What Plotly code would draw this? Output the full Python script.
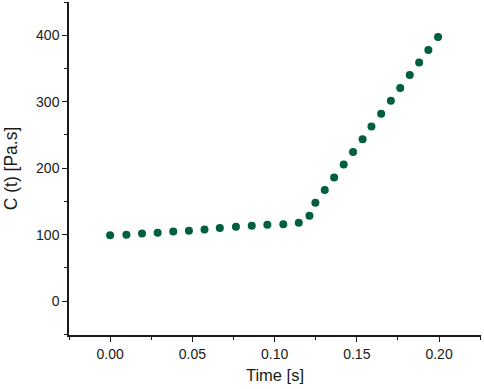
import plotly.graph_objects as go

time_s = [0.0, 0.0099, 0.0194, 0.0289, 0.0384, 0.0479, 0.0574, 0.0667, 0.0765, 0.0861,
          0.0956, 0.1053, 0.1147, 0.1212, 0.1248, 0.1305, 0.1362, 0.1420, 0.1477, 0.1535,
          0.1589, 0.1648, 0.1707, 0.1764, 0.1822, 0.1879, 0.1935, 0.1994]
c_t = [99, 100, 101.6, 103, 104.6, 106, 107.6, 109.9, 111.7, 113.2,
       114.7, 115.8, 117.7, 128.3, 148, 167, 186, 205.7, 224.5, 243.5,
       262.6, 281.8, 301.4, 320.5, 340, 358.8, 377.8, 397.4]

x_ticks = [0.0, 0.05, 0.10, 0.15, 0.20]
x_tick_labels = ["0.00", "0.05", "0.10", "0.15", "0.20"]
y_ticks = [0, 100, 200, 300, 400]

FONT = "Liberation Sans, Arial, sans-serif"
INK = "#1a1a1a"

fig = go.Figure()
fig.add_trace(go.Scatter(
    x=time_s, y=c_t, mode="markers",
    marker=dict(color="#005f3c", size=8, line=dict(width=0)),
    showlegend=False,
))

axis_common = dict(
    showline=True, linecolor=INK, linewidth=1.5,
    ticks="outside", ticklen=5, tickwidth=1.3, tickcolor=INK,
    showgrid=False, zeroline=False, mirror=False, automargin=False,
    tickfont=dict(family=FONT, size=14, color=INK),
)

fig.update_layout(
    width=484, height=389,
    margin=dict(l=69, r=3, t=2, b=54),
    paper_bgcolor="white", plot_bgcolor="white",
    font=dict(family=FONT, color=INK),
    xaxis=dict(
        **axis_common,
        range=[-0.025, 0.2255],
        tickvals=x_ticks, ticktext=x_tick_labels,
        minor=dict(dtick=0.025, tick0=0, ticks="outside", ticklen=3, tickwidth=1.2, tickcolor=INK),
        title=dict(text="Time [s]", font=dict(size=16.5), standoff=9),
    ),
    yaxis=dict(
        **axis_common,
        range=[-51, 450],
        tickvals=y_ticks,
        minor=dict(dtick=50, tick0=0, ticks="outside", ticklen=3, tickwidth=1.2, tickcolor=INK),
        title=dict(text="C (t) [Pa.s]", font=dict(size=17.5), standoff=14),
    ),
)

fig.write_html("out.html", config={"displayModeBar": False},
               post_script="document.body.style.margin='0';")
